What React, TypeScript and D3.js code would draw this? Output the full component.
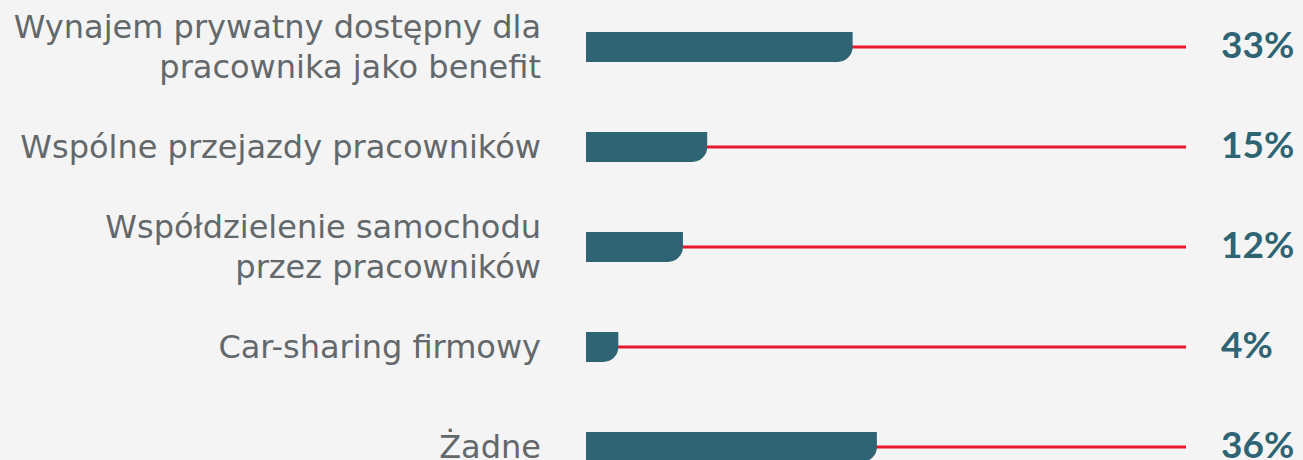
import React from "react";
import * as d3 from "d3";

const categories: string[][] = [
  ["Wynajem prywatny dostępny dla", "pracownika jako benefit"],
  ["Wspólne przejazdy pracowników"],
  ["Współdzielenie samochodu", "przez pracowników"],
  ["Car-sharing firmowy"],
  ["Żadne"],
];
const values: number[] = [33, 15, 12, 4, 36];
const valueLabels: string[] = ["33%", "15%", "12%", "4%", "36%"];

const W = 1303;
const H = 460;

export default function App() {
  const x = d3.scaleLinear().domain([0, 100]).range([586, 1394]);
  const y = d3.scaleBand<number>().domain(d3.range(values.length)).range([-3, 497]);
  const lineEnd = 1186;
  const barH = 30;
  const r = 15;
  const labelFont = "'DejaVu Sans', sans-serif";
  const valueFont = "Lato, 'DejaVu Sans', sans-serif";

  const barPath = (x0: number, x1: number, y0: number, h: number) => {
    const rr = Math.min(r, x1 - x0, h);
    return `M${x0},${y0}H${x1}V${y0 + h - rr}A${rr},${rr} 0 0 1 ${x1 - rr},${y0 + h}H${x0}Z`;
  };

  return (
    <svg width={W} height={H} style={{ position: "absolute", left: 0, top: 0, background: "#f4f4f4" }}>
      <rect width={W} height={H} fill="#f4f4f4" />
      {values.map((v, i) => {
        const cy = (y(i) as number) + y.bandwidth() / 2;
        const y0 = cy - barH / 2;
        const lines = categories[i];
        const lh = 40;
        return (
          <g key={i}>
            <line x1={x(0)} x2={lineEnd} y1={cy} y2={cy} stroke="#e8192c" strokeWidth={3} />
            <path d={barPath(x(0), x(v), y0, barH)} fill="#2e6474" />
            <text
              x={1221}
              y={cy}
              dy="0.31em"
              fontFamily={valueFont}
              fontWeight={700}
              fontSize={37}
              fill="#2e6474"
            >
              {valueLabels[i]}
            </text>
            {lines.map((ln, j) => (
              <text
                key={j}
                x={541}
                y={cy + (j - (lines.length - 1) / 2) * lh}
                dy="0.33em"
                textAnchor="end"
                fontFamily={labelFont}
                fontSize={32}
                fill="#63686b"
              >
                {ln}
              </text>
            ))}
          </g>
        );
      })}
    </svg>
  );
}
